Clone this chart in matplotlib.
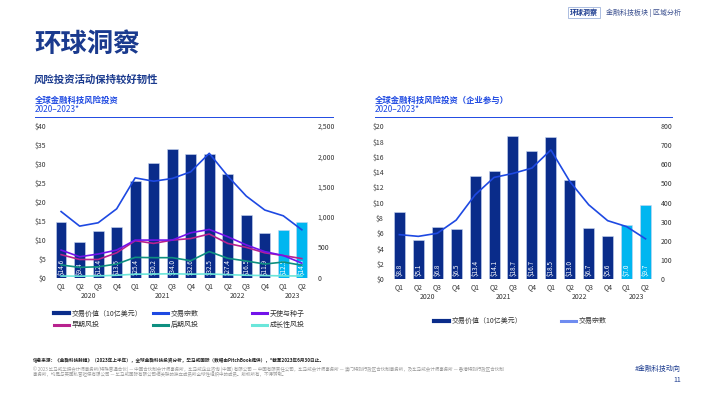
"""Recreate the KPMG fintech VC page: two bar + line charts."""

import matplotlib
matplotlib.use("Agg")
import matplotlib.pyplot as plt
from matplotlib.lines import Line2D
from matplotlib.ticker import FuncFormatter, MultipleLocator
import matplotlib.transforms as mtransforms

plt.rcParams["font.family"] = ["Noto Sans CJK SC", "DejaVu Sans"]

quarters = ["Q1", "Q2", "Q3", "Q4"] * 3 + ["Q1", "Q2"]
years = ["2020", "2021", "2022", "2023"]
year_pos = [1.5, 5.5, 9.5, 12.5]

# left chart: global fintech VC
deal_value = [14.6, 9.4, 12.4, 13.5, 25.4, 30.2, 34.0, 32.6, 32.5, 27.4, 16.5, 11.9, 12.5, 14.8]
deal_count = [1090, 850, 905, 1135, 1645, 1590, 1635, 1745, 2050, 1675, 1345, 1115, 1020, 790]
angel_seed = [455, 345, 390, 455, 620, 620, 620, 740, 795, 675, 540, 430, 365, 240]
early_vc = [380, 300, 300, 410, 610, 565, 620, 645, 720, 565, 500, 410, 365, 315]
late_vc = [210, 170, 180, 225, 335, 330, 330, 280, 430, 320, 275, 225, 258, 205]
growth_vc = [28, 25, 30, 40, 58, 60, 65, 58, 62, 50, 40, 35, 30, 28]

# right chart: corporate participation
corp_value = [8.8, 5.1, 6.8, 6.5, 13.4, 14.1, 18.7, 16.7, 18.5, 13.0, 6.7, 5.6, 7.0, 9.7]
corp_count = [232, 223, 239, 308, 440, 531, 552, 580, 675, 510, 388, 305, 274, 210]

NAVY = "#0a2c8a"
CYAN = "#00b6f0"
BLUE = "#1e49e2"
PURPLE = "#7213ea"
PINK = "#b8228e"
TEAL = "#0e8f80"
AQUA = "#6ae6da"
TITLE = "#1a3a8e"
TXT = "#333333"

W, H = 710, 399


def fx(px):
    return px / W


def fy(px):
    return 1 - px / H


def style_axes(ax, ax2):
    for a in (ax, ax2):
        for s in a.spines.values():
            s.set_visible(False)
        a.tick_params(length=0, labelsize=5, colors=TXT)
    ax.tick_params(axis="y", pad=3)
    ax2.tick_params(axis="y", pad=4)
    ax.tick_params(axis="x", pad=3)


def draw_bars(ax, values, ymax, label_y):
    x = range(len(values))
    colors = [NAVY] * 12 + [CYAN] * 2
    ax.bar(x, values, width=0.58, color=colors, edgecolor="#c9d6f0", linewidth=0.4, zorder=2)
    for i, v in enumerate(values):
        ax.text(i, label_y, f"${v:.1f}", rotation=90, ha="center", va="bottom",
                color="white", fontsize=4.6, zorder=3)
    ax.set_ylim(0, ymax)
    ax.set_xticks(list(x))
    ax.set_xticklabels(quarters)
    trans = mtransforms.blended_transform_factory(ax.transData, ax.transAxes)
    for yr, p in zip(years, year_pos):
        ax.text(p, -0.12, yr, transform=trans, ha="center", va="center", fontsize=5, color=TXT)


def chart_title(fig, x0, x1, title):
    fig.text(fx(x0), fy(100), title, fontsize=6, fontweight="bold", color=BLUE, va="center")
    fig.text(fx(x0), fy(110), "2020–2023*", fontsize=6, color=BLUE, va="center")
    fig.add_artist(Line2D([fx(x0), fx(x1)], [fy(116.5), fy(116.5)], color=BLUE, lw=0.7))


def add_legend(fig, handles, labels, x, y):
    fig.legend(handles, labels, loc="center left", bbox_to_anchor=(fx(x), fy(y)),
               frameon=False, fontsize=5, handlelength=2.1, handletextpad=0.4,
               labelspacing=0.55, borderpad=0, borderaxespad=0, labelcolor=TXT)


fig = plt.figure(figsize=(7.1, 3.99), dpi=100)

# header
fig.text(fx(34), fy(44), "环球洞察", fontsize=19, fontweight="bold", color=TITLE, va="center")
fig.text(fx(34), fy(80), "风险投资活动保持较好韧性", fontsize=7.5, fontweight="bold", color=TITLE, va="center")
fig.text(fx(570), fy(12.5), "环球洞察", fontsize=5, fontweight="bold", color=TITLE, va="center",
         bbox=dict(boxstyle="square,pad=0.25", fc="white", ec="#9fb3dc", lw=0.6))
fig.text(fx(606), fy(12.5), "金融科技板块 | 区域分析", fontsize=5, color="#3a4f8f", va="center")

# left chart
chart_title(fig, 35, 333, "全球金融科技风险投资")
ax1 = fig.add_axes([fx(50), fy(277.7), fx(312) - fx(50), (277.7 - 126) / H])
ax1b = ax1.twinx()
draw_bars(ax1, deal_value, 40, 0.7)
ax1.yaxis.set_major_locator(MultipleLocator(5))
ax1.yaxis.set_major_formatter(FuncFormatter(lambda v, p: f"${v:.0f}"))
x = range(len(deal_value))
ax1b.plot(x, growth_vc, color=AQUA, lw=1.2)
ax1b.plot(x, late_vc, color=TEAL, lw=1.2)
ax1b.plot(x, early_vc, color=PINK, lw=1.2)
ax1b.plot(x, angel_seed, color=PURPLE, lw=1.2)
ax1b.plot(x, deal_count, color=BLUE, lw=1.2)
ax1b.set_ylim(0, 2500)
ax1b.yaxis.set_major_locator(MultipleLocator(500))
ax1b.yaxis.set_major_formatter(FuncFormatter(lambda v, p: f"{v:,.0f}"))
ax1.set_xlim(-0.6, 13.55)
style_axes(ax1, ax1b)

h = lambda c, lw=2.2: Line2D([], [], color=c, lw=lw)
add_legend(fig, [h(NAVY, 3), h(PINK)], ["交易价值（10亿美元）", "早期风投"], 54, 319.5)
add_legend(fig, [h(BLUE), h(TEAL)], ["交易宗数", "后期风投"], 153, 319.5)
add_legend(fig, [h(PURPLE), h(AQUA)], ["天使与种子", "成长性风投"], 252, 319.5)

# right chart
chart_title(fig, 375, 672, "全球金融科技风险投资（企业参与）")
ax2 = fig.add_axes([fx(388), fy(279), fx(655) - fx(388), (279 - 126) / H])
ax2b = ax2.twinx()
draw_bars(ax2, corp_value, 20, 0.35)
ax2.yaxis.set_major_locator(MultipleLocator(2))
ax2.yaxis.set_major_formatter(FuncFormatter(lambda v, p: f"${v:.0f}"))
ax2b.plot(range(len(corp_count)), corp_count, color=BLUE, lw=1.2)
ax2b.set_ylim(0, 800)
ax2b.yaxis.set_major_locator(MultipleLocator(100))
ax2.set_xlim(-0.6, 13.5)
style_axes(ax2, ax2b)

add_legend(fig, [h(NAVY, 3)], ["交易价值（10亿美元）"], 434, 321)
add_legend(fig, [h("#6f8cf0")], ["交易宗数"], 561, 321)

# footer
fig.text(fx(33), fy(361), "信息来源：《金融科技脉搏》（2023年上半年），全球金融科技投资分析，毕马威国际（数据由PitchBook提供），*截至2023年6月30日止。",
         fontsize=3.3, color="#222222", fontweight="bold", va="center")
fig.text(fx(33), fy(369),
         "© 2023 毕马威华振会计师事务所(特殊普通合伙) — 中国合伙制会计师事务所，毕马威企业咨询 (中国) 有限公司 — 中国有限责任公司，"
         "毕马威会计师事务所 — 澳门特别行政区合伙制事务所，及毕马威会计师事务所 — 香港特别行政区合伙制",
         fontsize=3.25, color="#9a9a9a", va="center")
fig.text(fx(33), fy(374.5),
         "事务所，均是与英国私营担保有限公司 — 毕马威国际有限公司相关联的独立成员所全球性组织中的成员。版权所有，不得转载。",
         fontsize=3.25, color="#9a9a9a", va="center")
fig.text(fx(681), fy(369), "#金融科技动向", fontsize=5, color=TITLE, ha="right", va="center")
fig.text(fx(681), fy(380), "11", fontsize=5, color=TITLE, ha="right", va="center")

fig.savefig("out.png", dpi=100)
